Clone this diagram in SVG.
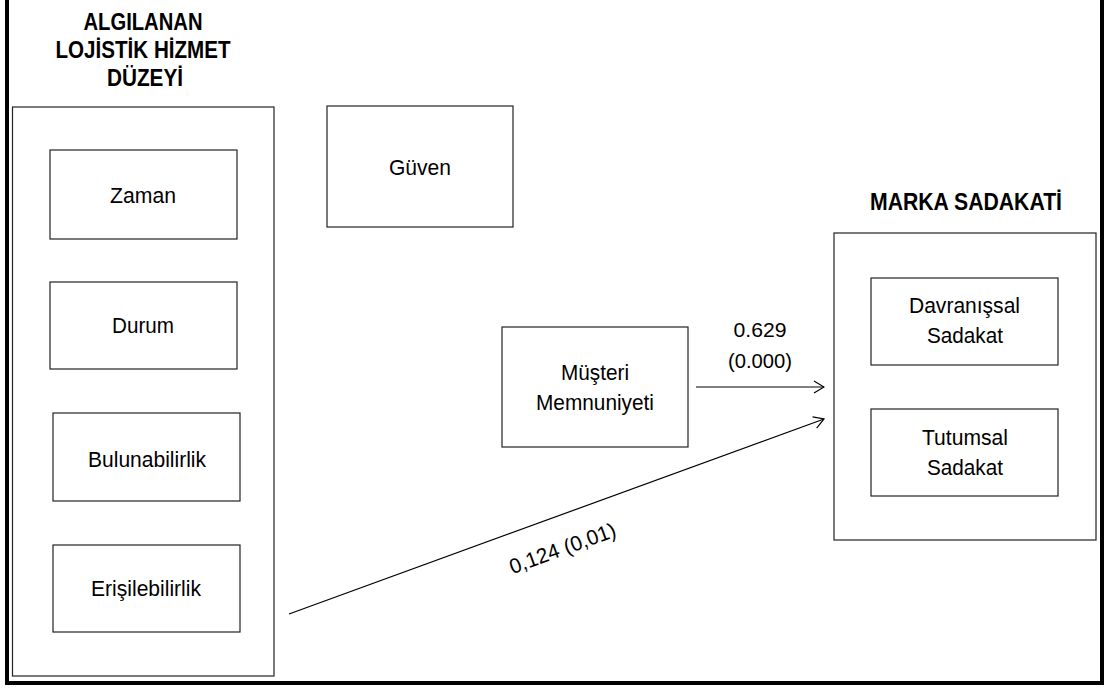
<svg xmlns="http://www.w3.org/2000/svg" width="1107" height="688" viewBox="0 0 1107 688">
  <defs>
    <style>
      .box { fill: #fff; stroke: #222; stroke-width: 1.2; }
      .lbl { font-family: "Liberation Sans", Arial, sans-serif; font-size: 22.5px; fill: #000; text-anchor: middle; }
      .num { font-size: 21px; }
      .ttl { font-family: "Liberation Sans", Arial, sans-serif; font-size: 23px; font-weight: bold; fill: #000; text-anchor: middle; }
      .edge { fill: none; stroke: #000; stroke-width: 1.2; }
    </style>
    <marker id="open-arrow" viewBox="0 0 12 14" refX="11" refY="7" markerWidth="12" markerHeight="14" markerUnits="userSpaceOnUse" orient="auto">
      <path d="M1,1 L11,7 L1,13" fill="none" stroke="#000" stroke-width="1.2"/>
    </marker>
  </defs>

  <rect width="1107" height="688" fill="#fff"/>
  <!-- page frame (top edge runs off the sheet) -->
  <rect x="7" y="-10" width="1095" height="693" fill="none" stroke="#000" stroke-width="4"/>

  <g id="lojistik-hizmet">
    <text class="ttl" x="143" y="30" textLength="119" lengthAdjust="spacingAndGlyphs">ALGILANAN</text>
    <text class="ttl" x="143" y="58" textLength="175" lengthAdjust="spacingAndGlyphs">LOJİSTİK HİZMET</text>
    <text class="ttl" x="145" y="86" textLength="76" lengthAdjust="spacingAndGlyphs">DÜZEYİ</text>
    <rect class="box" x="12.5" y="107" width="261.5" height="569"/>
  </g>
  <g id="zaman">
    <rect class="box" x="50" y="150" width="187" height="89"/>
    <text class="lbl" x="143" y="203" textLength="66" lengthAdjust="spacingAndGlyphs">Zaman</text>
  </g>
  <g id="durum">
    <rect class="box" x="50" y="282" width="187" height="87"/>
    <text class="lbl" x="143" y="333" textLength="62" lengthAdjust="spacingAndGlyphs">Durum</text>
  </g>
  <g id="bulunabilirlik">
    <rect class="box" x="53" y="413" width="187" height="88"/>
    <text class="lbl" x="147" y="467" textLength="118" lengthAdjust="spacingAndGlyphs">Bulunabilirlik</text>
  </g>
  <g id="erisilebilirlik">
    <rect class="box" x="53" y="545" width="187" height="87"/>
    <text class="lbl" x="146" y="596" textLength="110" lengthAdjust="spacingAndGlyphs">Erişilebilirlik</text>
  </g>

  <g id="guven">
    <rect class="box" x="327" y="106" width="186" height="121"/>
    <text class="lbl" x="420" y="175" textLength="62" lengthAdjust="spacingAndGlyphs">Güven</text>
  </g>

  <g id="musteri-memnuniyeti">
    <rect class="box" x="502" y="327" width="186" height="120"/>
    <text class="lbl" x="595" y="380" textLength="68" lengthAdjust="spacingAndGlyphs">Müşteri</text>
    <text class="lbl" x="595" y="410" textLength="118" lengthAdjust="spacingAndGlyphs">Memnuniyeti</text>
  </g>

  <g id="marka-sadakati">
    <text class="ttl" x="966" y="210" textLength="192" lengthAdjust="spacingAndGlyphs">MARKA SADAKATİ</text>
    <rect class="box" x="834" y="233" width="262" height="307"/>
  </g>
  <g id="davranissal-sadakat">
    <rect class="box" x="871" y="278" width="187" height="87"/>
    <text class="lbl" x="964.5" y="313" textLength="111" lengthAdjust="spacingAndGlyphs">Davranışsal</text>
    <text class="lbl" x="965" y="343" textLength="76" lengthAdjust="spacingAndGlyphs">Sadakat</text>
  </g>
  <g id="tutumsal-sadakat">
    <rect class="box" x="871" y="409" width="187" height="87"/>
    <text class="lbl" x="965" y="445" textLength="86" lengthAdjust="spacingAndGlyphs">Tutumsal</text>
    <text class="lbl" x="965" y="475" textLength="76" lengthAdjust="spacingAndGlyphs">Sadakat</text>
  </g>

  <g id="connectors">
    <line class="edge" x1="696" y1="387" x2="824" y2="387" marker-end="url(#open-arrow)"/>
    <text class="lbl num" x="760" y="337" textLength="53" lengthAdjust="spacingAndGlyphs">0.629</text>
    <text class="lbl num" x="760" y="368" textLength="64" lengthAdjust="spacingAndGlyphs">(0.000)</text>

    <line class="edge" x1="289" y1="614" x2="824" y2="419" marker-end="url(#open-arrow)"/>
    <text class="lbl num" x="565" y="555" transform="rotate(-20 565 555)" textLength="112" lengthAdjust="spacingAndGlyphs">0,124 (0,01)</text>
  </g>
</svg>
